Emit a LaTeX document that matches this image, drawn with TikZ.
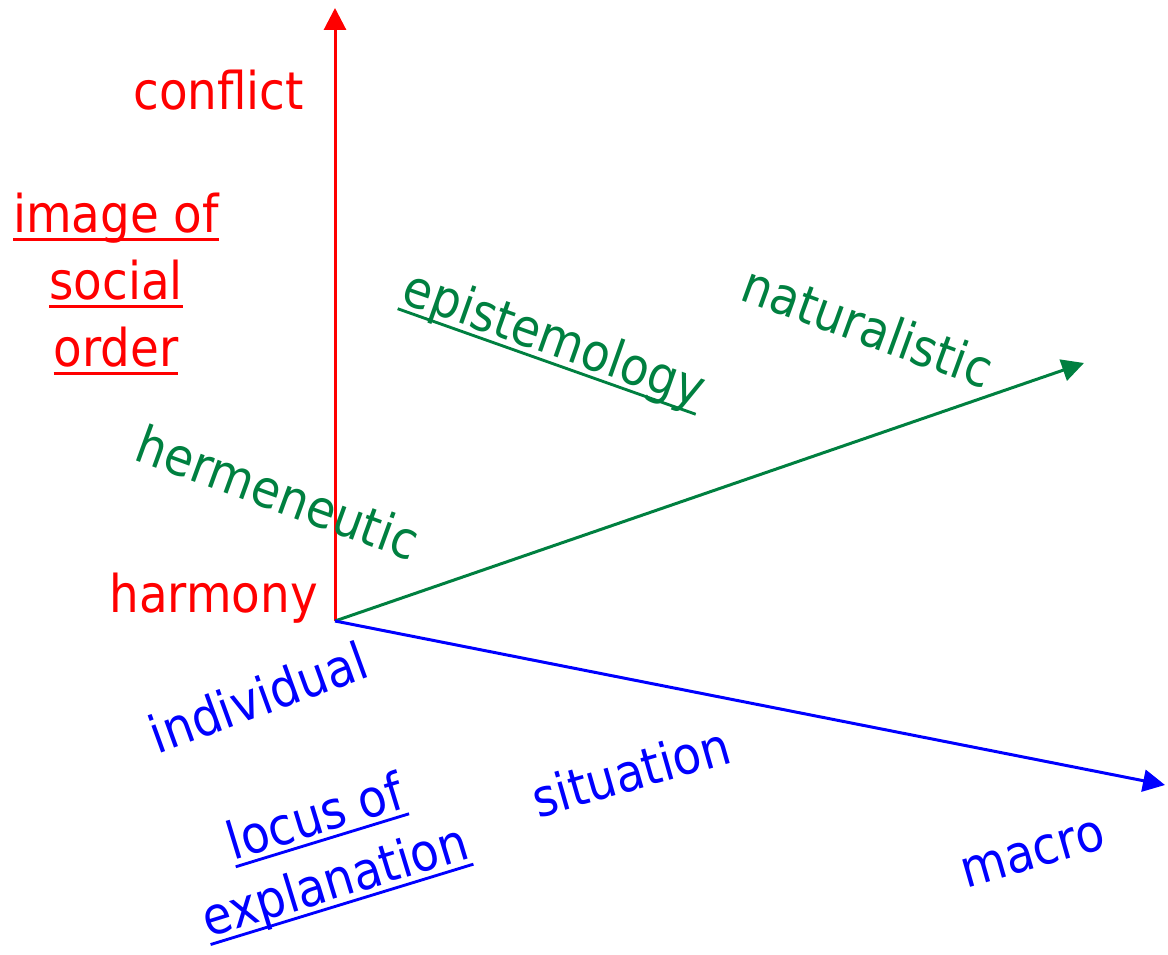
\documentclass[tikz,border=0pt]{standalone}
\usepackage{fontspec}
\setmainfont{DejaVu Sans Condensed}
\usetikzlibrary{arrows.meta}
\definecolor{axisred}{RGB}{255,0,0}
\definecolor{axisgreen}{RGB}{0,128,64}
\definecolor{axisblue}{RGB}{0,0,255}
\newsavebox\ulbox
\newcommand\ulined[1]{\sbox\ulbox{#1}\rlap{\rule[-0.16em]{\wd\ulbox}{0.055em}}\usebox\ulbox}
\begin{document}
\begin{tikzpicture}[x=1pt,y=1pt,
  every node/.style={inner sep=0pt,font=\fontsize{52}{67}\selectfont},
  axis/.style={line width=3pt,-{Triangle[length=22pt,width=22pt]}}]
\useasboundingbox (0,0) rectangle (1168,954);
% axes
\coordinate (origin) at (335,333);
\coordinate (ordertip) at (335,946);
\coordinate (epistip) at (1084,591);
\coordinate (locustip) at (1165,169);
\draw[axis,axisred] (origin) -- (ordertip);
\draw[axis,axisgreen] (origin) -- (epistip);
\draw[axis,axisblue] (origin) -- (locustip);
% image of social order
\node[text=axisred,anchor=base east] (conflict) at (304,844) {conflict};
\node[text=axisred,align=center] (social) at (116,670) {\ulined{image of}\\\ulined{social}\\\ulined{order}};
\node[text=axisred,anchor=base east] (harmony) at (318,341) {harmony};
% epistemology
\node[text=axisgreen,rotate=-20] (hermeneutic) at (278,462) {hermeneutic};
\node[text=axisgreen,anchor=base,rotate=-19.5] (epistemology) at (549,599) {\ulined{epistemology}};
\node[text=axisgreen,rotate=-20] (naturalistic) at (868,628) {naturalistic};
% locus of explanation
\node[text=axisblue,rotate=20] (individual) at (258,257) {individual};
\node[text=axisblue,align=center,rotate=17] (locus) at (326,102) {\ulined{locus of}\\\ulined{explanation}};
\node[text=axisblue,anchor=base,rotate=16] (situation) at (636,164) {situation};
\node[text=axisblue,anchor=base,rotate=16] (macro) at (1037,86) {macro};
\end{tikzpicture}
\end{document}
